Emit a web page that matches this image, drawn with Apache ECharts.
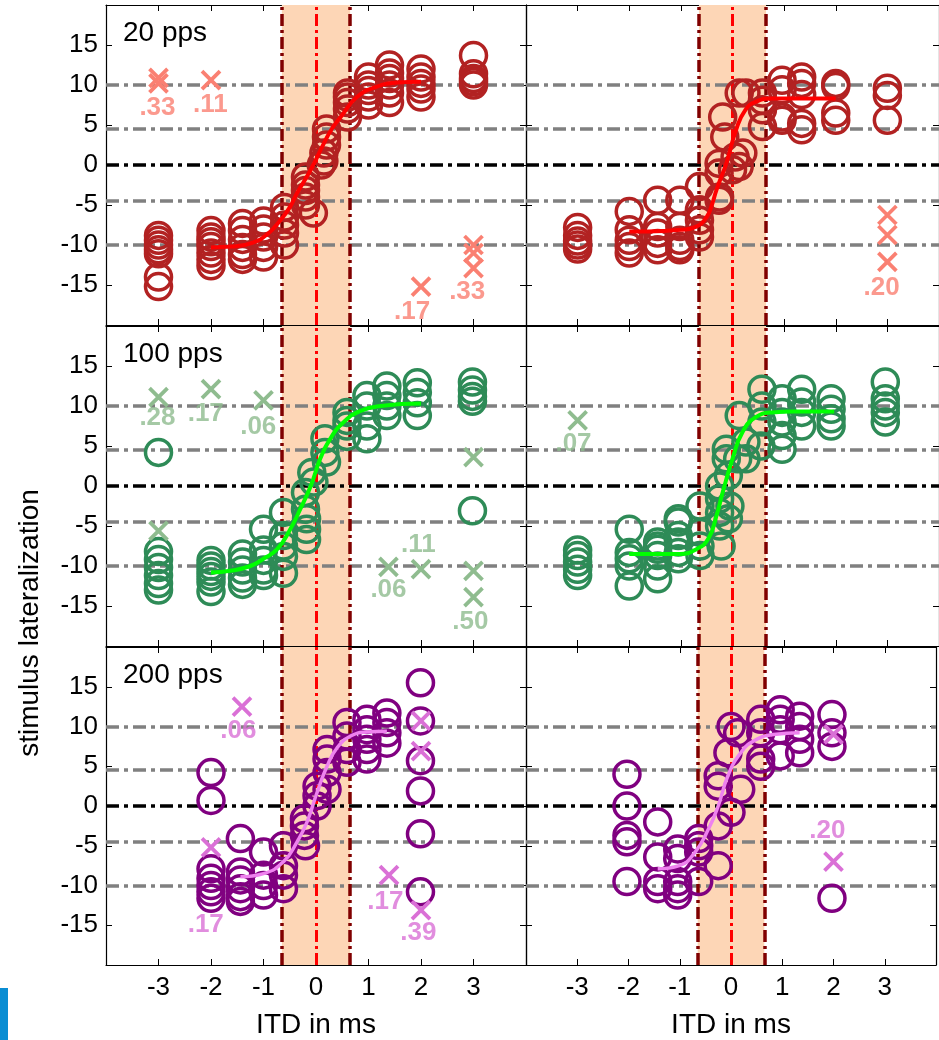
<!DOCTYPE html>
<html>
<head>
<meta charset="utf-8">
<script src="https://cdn.jsdelivr.net/npm/echarts@6/dist/echarts.min.js"></script>
<style>
  html, body { margin: 0; padding: 0; background: #fff; }
  #chart { width: 939px; height: 1040px; }
</style>
</head>
<body>
<div id="chart"></div>
<script>
// Axis ticks
const xTicks = [-3, -2, -1, 0, 1, 2, 3];
const yTicks = [-15, -10, -5, 0, 5, 10, 15];

// Reference levels (dash-dot) and the shaded ITD band
const grayLevels = [-10, -4.5, 4.5, 10];
const zeroLevel = 0;
const bandEdges = [-0.65, 0.65];
const centerITD = 0;

// Row titles
const rateLabels = ['20 pps', '100 pps', '200 pps'];
const xTitle = 'ITD in ms';
const yTitle = 'stimulus lateralization';

// ---- 20 pps, left ----
const circ20L = [
  [-3,-8.8],[-3,-9.4],[-3,-10],[-3,-10.6],[-3,-11.1],[-3,-14],[-3,-15.2],
  [-2,-8.2],[-2,-9],[-2,-9.6],[-2,-10.2],[-2,-11],[-2,-11.8],[-2,-12.6],
  [-1.4,-7.3],[-1.4,-8.2],[-1.4,-9.3],[-1.4,-10.3],[-1.4,-11.2],[-1.4,-11.8],
  [-1,-7],[-1,-8],[-1,-9],[-1,-10.3],[-1,-11.5],
  [-0.6,-5.3],[-0.6,-6.5],[-0.6,-7.5],[-0.6,-8.5],[-0.6,-10],
  [-0.2,-1.5],[-0.2,-2.5],[-0.2,-3.2],[-0.2,-4],[-0.2,-5],[-0.05,-6],
  [0.2,4.5],[0.2,3.5],[0.2,2.5],[0.15,1.5],[0.15,0.5],[0.1,0],
  [0.6,9],[0.6,8.5],[0.6,7.8],[0.6,7],[0.6,6],
  [1,11],[1,10],[1,9.3],[1,8.5],[1,7.5],
  [1.4,12.5],[1.4,11.5],[1.4,10.8],[1.4,10],[1.4,9],[1.4,7.8],
  [2,12],[2,11],[2,10.2],[2,9.5],[2,8.5],
  [3,13.7],[3,11.4],[3,10.8],[3,10.4],[3,10]
];
const cross20L = [[-3,10.9],[-3,10.2],[-2,10.6],[2,-15.2],[3,-10],[3,-11],[3,-12.9]];
const note20L = [[-3.02,7.2,'.33'],[-2.01,7.5,'.11'],[1.83,-18.4,'.17'],[2.88,-15.9,'.33']];
const fit20L = [[-2,-10.3],[-1.6,-10.2],[-1.2,-9.7],[-0.9,-8.5],[-0.68,-6.9],[-0.5,-5.3],[-0.36,-3.5],
  [-0.1,-0.6],[0.15,2.7],[0.3,4.5],[0.47,6],[0.78,8.5],[1.16,9.8],[1.54,10.3],[2,10.4]];

// ---- 20 pps, right ----
const circ20R = [
  [-3,-7.8],[-3,-8.8],[-3,-9.5],[-3,-10],[-3,-10.5],
  [-2,-5.8],[-2,-8.1],[-2,-9.4],[-2,-10.2],[-2,-11],
  [-1.45,-4.4],[-1.45,-7.7],[-1.45,-8.5],[-1.45,-9.8],[-1.45,-10.6],
  [-1.02,-4.4],[-1.02,-7.7],[-1.02,-9.4],[-1.02,-10.2],[-1.02,-10.6],
  [-0.64,-2.7],[-0.64,-5.6],[-0.64,-6.9],[-0.64,-8.1],[-0.64,-9],
  [-0.26,0.2],[-0.26,-1],[-0.25,-4],[-0.26,-4.4],[-0.19,6],[-0.15,3.5],
  [0,-0.6],[0.05,1],[0.2,1.5],[0.13,9],[0.26,9],[0.13,-0.2],
  [0.58,9],[0.58,8.1],[0.58,6.9],[0.58,4.8],
  [0.96,10.6],[0.96,9.4],[0.96,6],[0.96,5.6],
  [1.34,11],[1.34,10.2],[1.34,8.8],[1.34,5.2],[1.34,4.4],
  [2,10.2],[2,9.8],[2,6.5],[2,5.6],
  [3,9.6],[3,8.7],[3,5.6]
];
const cross20R = [[3,-6.25],[3,-8.75],[3,-12.1]];
const note20R = [[2.89,-15.4,'.20']];
const fit20R = [[-2,-8.3],[-1.65,-8.3],[-1,-8.1],[-0.7,-7.7],[-0.5,-6.5],[-0.4,-5],[-0.31,-3.1],
  [-0.12,0.2],[0.07,4.4],[0.25,6.9],[0.45,7.9],[0.77,8.3],[1.2,8.3],[2,8.3]];

// ---- 100 pps, left ----
const circ100L = [
  [-3,4.2],[-3,-8.2],[-3,-9.2],[-3,-10.2],[-3,-11.2],[-3,-12.2],[-3,-13],
  [-2,-9.3],[-2,-10],[-2,-10.7],[-2,-11.3],[-2,-12],[-2,-13.2],
  [-1.4,-8.5],[-1.4,-9.5],[-1.4,-10.5],[-1.4,-11.5],[-1.4,-12.3],
  [-1,-5.4],[-1,-8],[-1,-9.3],[-1,-10.5],[-1,-11.2],
  [-0.62,-3.3],[-0.62,-6.2],[-0.62,-7.5],[-0.62,-8.8],[-0.62,-10.9],
  [-0.2,-0.8],[-0.2,-2.9],[-0.18,-4.1],[-0.18,-5.4],[-0.18,-6.7],
  [-0.08,1.7],[-0.04,0.5],
  [0.17,5.9],[0.17,4.2],[0.2,3],
  [0.59,9.2],[0.59,8.2],[0.59,7.5],[0.59,6.2],
  [0.97,11.3],[0.97,10],[0.97,7.5],[0.97,5.9],
  [1.35,12.5],[1.35,11.3],[1.35,10],[1.35,8.8],
  [1.93,12.9],[1.93,11.7],[1.93,10.4],[1.93,8.8],
  [2.98,13],[2.98,12],[2.98,11.2],[2.98,10.6],[2.98,-3.1]
];
const cross100L = [[-3,11.1],[-3,-5.6],[-2,12.1],[-1,10.7],[1.38,-10.1],[2,-10.4],[3,3.6],[3,-10.6],[3,-13.9]];
const note100L = [[-3.02,8.5,'.28'],[-2.1,9,'.17'],[-1.1,7.4,'.06'],[1.38,-13,'.06'],[1.95,-7.4,'.11'],[2.94,-17,'.50']];
const fit100L = [[-2,-10.8],[-1.63,-10.6],[-1.25,-10],[-1,-9.1],[-0.74,-7.9],[-0.49,-5.4],[-0.3,-2.9],
  [-0.1,0],[0.08,3.4],[0.27,5.9],[0.53,8],[0.85,9.4],[1.23,10],[2,10.3]];

// ---- 100 pps, right ----
const circ100R = [
  [-3,-8],[-3,-8.7],[-3,-9.5],[-3,-10.4],[-3,-11.2],
  [-2,-5.4],[-2,-8.3],[-2,-9.1],[-2,-10],[-2,-12.5],
  [-1.45,-7],[-1.45,-7.5],[-1.45,-7.9],[-1.45,-8.7],[-1.45,-10],[-1.45,-11.6],
  [-1.05,-4.1],[-1.05,-4.5],[-1.05,-6.2],[-1.05,-7],[-1.05,-8.3],[-1.05,-9.1],
  [-0.63,-2.5],[-0.63,-5.8],[-0.63,-7.5],[-0.63,-8.7],
  [-0.25,0],[-0.25,-1.6],[-0.25,-3.3],[-0.25,-5],[-0.22,-7.5],
  [-0.12,4.6],[-0.12,3.4],[-0.08,1.3],[-0.05,-2.5],[-0.08,-4.1],
  [0.13,8.8],[0.1,3.4],[0.26,5.5],[0.26,3.4],
  [0.57,12.1],[0.57,10],[0.57,8],[0.55,5],
  [0.96,10.9],[0.96,9.2],[0.96,8],[0.96,6.3],[0.96,4.6],
  [1.34,12.1],[1.34,10.5],[1.34,9.2],[1.34,7.5],
  [1.91,10.9],[1.91,9.6],[1.91,8.4],[1.91,7.5],
  [2.96,13],[2.96,10.9],[2.96,10],[2.96,9.2],[2.96,8]
];
const cross100R = [[-3,8.2]];
const note100R = [[-3.08,5.25,'.07']];
const fit100R = [[-2,-8.5],[-1.65,-8.5],[-1.02,-8.5],[-0.7,-7.9],[-0.47,-6.6],[-0.31,-3.7],[-0.19,-0.8],
  [0,3.4],[0.19,6.7],[0.45,8.6],[0.77,9.2],[1.16,9.3],[1.97,9.3]];

// ---- 200 pps, left ----
const circ200L = [
  [-2,4.2],[-2,0.7],[-2,-7.9],[-2,-9.1],[-2,-10],[-2,-10.8],[-2,-11.6],
  [-1.44,-4.1],[-1.44,-8.3],[-1.44,-9.3],[-1.44,-10.4],[-1.44,-11.4],[-1.44,-12],
  [-1,-5.8],[-1,-8.7],[-1,-10],[-1,-11.2],
  [-0.62,-5],[-0.62,-7.5],[-0.62,-8.7],[-0.62,-10.4],
  [-0.22,-1.6],[-0.22,-2.5],[-0.22,-3.7],[-0.2,-5],
  [0.02,2.5],[0.02,1.3],[0.02,0],
  [0.21,7.1],[0.21,5.9],[0.21,4.2],[0.21,2.1],
  [0.59,10.5],[0.59,8.8],[0.59,7.1],[0.59,5.5],
  [0.97,10.9],[0.97,9.6],[0.97,8.4],[0.97,7.1],[0.97,5.9],
  [1.35,11.7],[1.35,10.5],[1.35,9.2],[1.35,7.9],
  [1.99,15.5],[1.99,10.7],[1.99,5.7],[1.99,1.9],[1.99,-3.5],[1.99,-10.8]
];
const cross200L = [[-1.41,12.5],[-2,-5.2],[1.39,-8.7],[2,10.7],[2,6.9],[2,-13.1]];
const note200L = [[-1.48,9.5,'.06'],[-2.1,-14.9,'.17'],[1.32,-12,'.17'],[1.95,-16,'.39']];
const fit200L = [[-1.44,-8.9],[-1,-8.5],[-0.62,-7],[-0.36,-4.5],[-0.17,-2],[0.02,1.7],
  [0.21,5],[0.4,7.3],[0.66,8.8],[0.97,9.3],[1.35,9.4]];

// ---- 200 pps, right ----
const circ200R = [
  [-2.03,4],[-2.03,0],[-2.03,-3.7],[-2.03,-4.5],[-2.03,-9.5],
  [-1.43,-2],[-1.43,-6.4],[-1.43,-9.5],[-1.43,-10.4],
  [-1.04,-5.4],[-1.04,-6.6],[-1.04,-9.5],[-1.04,-10.4],[-1.04,-11.2],
  [-0.63,-4.1],[-0.63,-5],[-0.63,-5.8],[-0.63,-9.5],
  [-0.25,3.8],[-0.25,2.5],[-0.25,-2.5],[-0.25,-7.5],
  [-0.06,6.7],[0,10],[0,-0.8],
  [0.13,9.2],[0.19,2.1],
  [0.58,10.9],[0.58,9.2],[0.58,5.9],[0.58,5],
  [0.96,12.1],[0.96,10.9],[0.96,9.6],[0.96,6.3],
  [1.34,11.3],[1.34,10],[1.34,8.4],[1.34,6.7],
  [1.97,11.5],[1.97,9.2],[1.97,7.5],[1.97,-11.6]
];
const cross200R = [[2,9],[2,-7]];
const note200R = [[1.88,-3.1,'.20']];
const fit200R = [[-1.43,-7.9],[-1.01,-7.5],[-0.7,-5.8],[-0.44,-2.9],[-0.25,0],[-0.06,3.8],
  [0.19,6.7],[0.45,8.2],[0.83,9],[1.34,9.2]];

// Panels in reading order (row by row, left then right)
const panelData = [
  { circles: circ20L,  crosses: cross20L,  notes: note20L,  fit: fit20L },
  { circles: circ20R,  crosses: cross20R,  notes: note20R,  fit: fit20R },
  { circles: circ100L, crosses: cross100L, notes: note100L, fit: fit100L },
  { circles: circ100R, crosses: cross100R, notes: note100R, fit: fit100R },
  { circles: circ200L, crosses: cross200L, notes: note200L, fit: fit200L },
  { circles: circ200R, crosses: cross200R, notes: note200R, fit: fit200R }
];

// Per-row colours
const rowStyle = [
  { circle: '#B22222', cross: '#FA8072', fit: '#FF0000', fitWidth: 4 },
  { circle: '#2E8B57', cross: '#8FBC8F', fit: '#00FF00', fitWidth: 4 },
  { circle: '#800080', cross: '#DA70D6', fit: '#EE82EE', fitWidth: 3.5 }
];

// Layout
const colLeft = [106, 526];
const rowTop = [5, 326, 647];
const plotW = 420, plotH = 320;
const FONT = '"Liberation Sans", Arial, Helvetica, sans-serif';
const crossPath = 'path://M0,0L10,10M10,0L0,10';

const grids = [], xAxes = [], yAxes = [], series = [];

function dashLine(color, width, dash) {
  return { color: color, width: width, type: dash };
}

panelData.forEach(function (p, i) {
  const row = Math.floor(i / 2), col = i % 2;
  const st = rowStyle[row];
  grids.push({ left: colLeft[col], top: rowTop[row], width: plotW, height: plotH });

  const baseX = {
    gridIndex: i, type: 'value', min: -4, max: 4, interval: 1,
    axisLine: { show: true, onZero: false, lineStyle: { color: '#000', width: 1.2 } },
    axisTick: { show: true, inside: true, length: 6, lineStyle: { color: '#000', width: 1 } },
    splitLine: { show: false }
  };
  xAxes.push(Object.assign({}, baseX, {
    position: 'bottom',
    axisLabel: {
      show: row === 2, color: '#000', fontSize: 26, fontFamily: FONT, margin: 10,
      formatter: function (v) { return xTicks.indexOf(v) >= 0 ? String(v) : ''; }
    },
    name: row === 2 ? xTitle : '', nameLocation: 'middle', nameGap: 46,
    nameTextStyle: { color: '#000', fontSize: 28, fontFamily: FONT }
  }));
  xAxes.push(Object.assign({}, baseX, { position: 'top', axisLabel: { show: false } }));

  const baseY = {
    gridIndex: i, type: 'value', min: -20, max: 20, interval: 5,
    axisLine: { show: true, onZero: false, lineStyle: { color: '#000', width: 1.2 } },
    axisTick: { show: true, inside: true, length: 6, lineStyle: { color: '#000', width: 1 } },
    splitLine: { show: false }
  };
  yAxes.push(Object.assign({}, baseY, {
    position: 'left',
    axisLabel: {
      show: col === 0, color: '#000', fontSize: 26, fontFamily: FONT, margin: 8,
      formatter: function (v) { return yTicks.indexOf(v) >= 0 ? String(v) : ''; }
    }
  }));
  yAxes.push(Object.assign({}, baseY, { position: 'right', axisLabel: { show: false } }));

  const xi = 2 * i, yi = 2 * i;

  // Reference lines drawn as markers
  const refLines = grayLevels.map(function (v) {
    return { yAxis: v, lineStyle: dashLine('#808080', 3.5, [13, 5, 4, 5]) };
  });
  refLines.push({ yAxis: zeroLevel, lineStyle: dashLine('#000000', 3.5, [13, 5, 4, 5]) });
  bandEdges.forEach(function (v) {
    refLines.push({ xAxis: v, lineStyle: dashLine('#800000', 3.5, [12, 4, 3, 4]) });
  });
  refLines.push({ xAxis: centerITD, lineStyle: dashLine('#FF0000', 3, [12, 4, 3, 4]) });

  series.push({
    type: 'scatter', xAxisIndex: xi, yAxisIndex: yi, silent: true, z: 3,
    data: p.circles, symbol: 'circle', symbolSize: 26,
    itemStyle: { color: 'rgba(0,0,0,0)', borderColor: st.circle, borderWidth: 3.5, opacity: 1 },
    markArea: {
      silent: true, z: 1,
      itemStyle: { color: '#FDD6B6', opacity: 1 },
      data: [[{ xAxis: bandEdges[0] }, { xAxis: bandEdges[1] }]]
    },
    markLine: {
      silent: true, z: 2, symbol: 'none', animation: false,
      label: { show: false }, emphasis: { disabled: true },
      data: refLines
    }
  });
  series.push({
    type: 'scatter', xAxisIndex: xi, yAxisIndex: yi, silent: true, z: 3,
    data: p.crosses, symbol: crossPath, symbolSize: 18,
    itemStyle: { color: 'rgba(0,0,0,0)', borderColor: st.cross, borderWidth: 3.8, opacity: 1 }
  });
  series.push({
    type: 'line', xAxisIndex: xi, yAxisIndex: yi, silent: true, z: 4,
    data: p.fit, smooth: true, showSymbol: false, symbol: 'none',
    lineStyle: { color: st.fit, width: st.fitWidth }
  });
  series.push({
    type: 'scatter', xAxisIndex: xi, yAxisIndex: yi, silent: true, z: 5,
    data: p.notes.map(function (n) { return { value: [n[0], n[1]], name: n[2] }; }),
    symbolSize: 1, itemStyle: { color: 'rgba(0,0,0,0)' },
    label: {
      show: true, position: 'inside', formatter: '{b}',
      color: st.cross, fontSize: 26, fontWeight: 'bold', fontFamily: FONT
    }
  });
});

const graphics = rateLabels.map(function (t, r) {
  return {
    type: 'text', left: 123, top: rowTop[r] + 14, z: 10,
    style: { text: t, font: '28px ' + FONT, fill: '#000' }
  };
});
graphics.push({
  type: 'text', x: 30, y: 623, rotation: Math.PI / 2, z: 10,
  style: { text: yTitle, font: '28px ' + FONT, fill: '#000', align: 'center', verticalAlign: 'middle',
           textAlign: 'center', textVerticalAlign: 'middle' }
});
graphics.push({
  type: 'rect', left: 0, top: 988, z: 10,
  shape: { width: 8, height: 52 }, style: { fill: '#0A8DD3' }
});

const chart = echarts.init(document.getElementById('chart'), null, { renderer: 'canvas' });
chart.setOption({
  animation: false,
  backgroundColor: '#ffffff',
  textStyle: { fontFamily: FONT },
  grid: grids,
  xAxis: xAxes,
  yAxis: yAxes,
  series: series,
  graphic: graphics
});
</script>
</body>
</html>
